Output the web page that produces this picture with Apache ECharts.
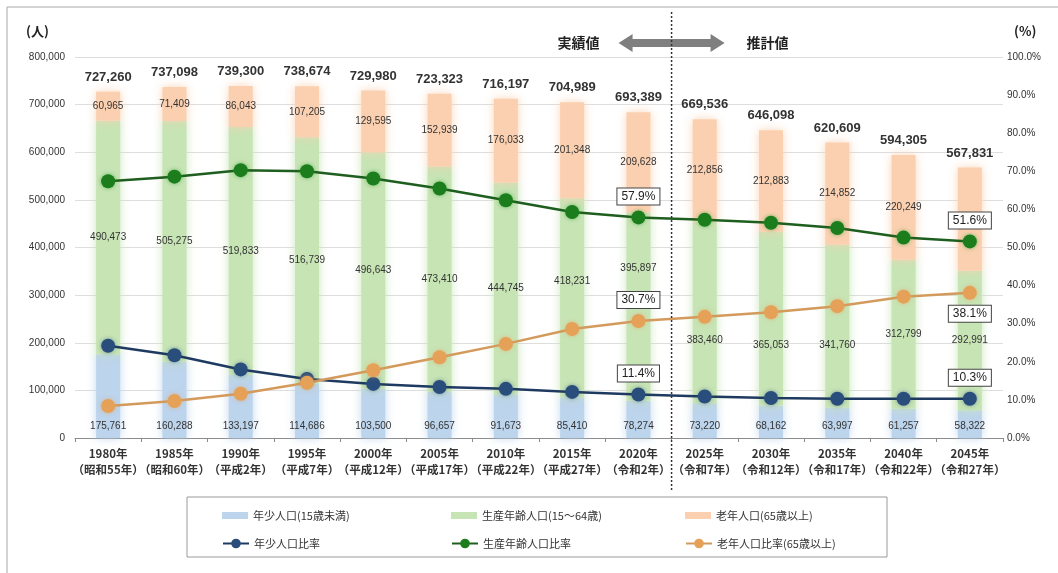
<!DOCTYPE html>
<html>
<head>
<meta charset="utf-8">
<script src="https://cdn.jsdelivr.net/npm/echarts@6/dist/echarts.min.js"></script>
<style>
html,body{margin:0;padding:0;background:#fff;}
#c{width:1058px;height:573px;}
</style>
</head>
<body>
<div id="c"></div>
<script>
const years = ['1980年','1985年','1990年','1995年','2000年','2005年','2010年','2015年','2020年','2025年','2030年','2035年','2040年','2045年'];
const eras = ['（昭和55年）','（昭和60年）','（平成2年）','（平成7年）','（平成12年）','（平成17年）','（平成22年）','（平成27年）','（令和2年）','（令和7年）','（令和12年）','（令和17年）','（令和22年）','（令和27年）'];

const young = [175761,160288,133197,114686,103500,96657,91673,85410,78274,73220,68162,63997,61257,58322];
const working = [490473,505275,519833,516739,496643,473410,444745,418231,395897,383460,365053,341760,312799,292991];
const elderly = [60965,71409,86043,107205,129595,152939,176033,201348,209628,212856,212883,214852,220249,216518];
const totals = [727260,737098,739300,738674,729980,723323,716197,704989,693389,669536,646098,620609,594305,567831];

const youngRate = [24.2,21.7,18.0,15.5,14.2,13.4,12.9,12.1,11.4,10.9,10.5,10.3,10.3,10.3];
const workingRate = [67.4,68.6,70.3,70.0,68.1,65.5,62.4,59.3,57.9,57.3,56.5,55.1,52.6,51.6];
const elderlyRate = [8.4,9.7,11.6,14.5,17.8,21.2,24.7,28.6,30.7,31.8,33.0,34.6,37.1,38.1];

const leftTicks = [0,100000,200000,300000,400000,500000,600000,700000,800000];
const rightTicks = [0,10,20,30,40,50,60,70,80,90,100];

const names = ['年少人口(15歳未満)','生産年齢人口(15～64歳)','老年人口(65歳以上)','年少人口比率','生産年齢人口比率','老年人口比率(65歳以上)'];
const labeledIdx = [8, 13];

// label vertical nudges (style only, px) for the working-age value labels
const workingLabelDy = [0,0,0,0,0,0,0,-16,-38,28,27,19,0,0];

const FONT = 'Arial, "Liberation Sans", "Noto Sans CJK JP", sans-serif';
const CJK = '"Noto Sans CJK JP", Arial, sans-serif';
const fmt = v => v.toLocaleString('en-US');

const categories = years.map((y,i) => y + '\n' + eras[i]);

function rateData(arr, pos) {
  return arr.map((v,i) => {
    const k = labeledIdx.indexOf(i);
    if (k < 0) return v;
    return {value: v, label: {show: true, position: pos[k]}};
  });
}
const boxLabel = {
  show: false, formatter: p => p.value.toFixed(1) + '%',
  backgroundColor: '#fff', borderColor: '#444', borderWidth: 1,
  padding: [2, 4], color: '#222', fontSize: 12, fontFamily: FONT, distance: 6
};
const segLabel = {fontSize: 10, color: '#333', fontFamily: FONT};

const barColors = ['#bcd4ec', '#c7e4b5', '#fbd0b0'];
const lineColors = ['#1f3a60', '#1e5e1e', '#d49a5c'];
const markColors = ['#2a4e7c', '#1c7d1c', '#e6a158'];

const legendPos = [[217,505],[446,505],[680,505],[217,533],[446,533],[680,533]];

const option = {
  animation: false,
  backgroundColor: '#fff',
  grid: {left: 75, right: 55, top: 57, bottom: 135},
  legend: names.map((n,i) => ({
    data: [n], left: legendPos[i][0], top: legendPos[i][1],
    itemWidth: 26, itemHeight: i < 3 ? 7 : 12, itemGap: 4,
    icon: i < 3 ? 'rect' : undefined,
    textStyle: {fontSize: 11, color: '#333', fontFamily: CJK},
    selectedMode: false
  })),
  xAxis: {
    type: 'category', data: categories, boundaryGap: true,
    axisLine: {lineStyle: {color: '#8c8c8c'}},
    axisTick: {show: true, length: 4, lineStyle: {color: '#8c8c8c'}},
    axisLabel: {interval: 0, fontSize: 11.5, fontWeight: 'bold', color: '#333', fontFamily: CJK, lineHeight: 16, margin: 8}
  },
  yAxis: [
    {type: 'value', min: 0, max: 800000, interval: 100000,
     axisLabel: {formatter: v => fmt(v), fontSize: 10, color: '#333', fontFamily: FONT, margin: 10},
     splitLine: {lineStyle: {color: '#dedede'}}, axisLine: {show: false}, axisTick: {show: false}},
    {type: 'value', min: 0, max: 100, interval: 10,
     axisLabel: {formatter: v => v.toFixed(1) + '%', fontSize: 10, color: '#333', fontFamily: FONT, margin: 4},
     splitLine: {show: false}, axisLine: {show: false}, axisTick: {show: false}}
  ],
  series: [
    {name: names[0], type: 'bar', stack: 'p', data: young, barWidth: 24,
     itemStyle: {color: barColors[0], shadowBlur: 10, shadowColor: 'rgba(188,212,236,0.9)'},
     label: Object.assign({show: true, position: 'insideBottom', distance: 7, formatter: p => fmt(p.value)}, segLabel)},
    {name: names[1], type: 'bar', stack: 'p', barWidth: 24,
     data: working.map((v,i) => workingLabelDy[i] ? {value: v, label: {offset: [0, workingLabelDy[i]]}} : v),
     itemStyle: {color: barColors[1], shadowBlur: 10, shadowColor: 'rgba(199,228,181,0.9)'},
     label: Object.assign({show: true, position: 'inside', formatter: p => fmt(p.value)}, segLabel)},
    {name: names[2], type: 'bar', stack: 'p', data: elderly, barWidth: 24,
     itemStyle: {color: barColors[2], shadowBlur: 10, shadowColor: 'rgba(251,208,176,0.9)'},
     label: Object.assign({show: true, position: 'inside', formatter: p => p.dataIndex === 13 ? '' : fmt(p.value)}, segLabel)},
    {name: 'total', type: 'bar', stack: 'p', data: totals.map(() => 0), barWidth: 24,
     itemStyle: {color: 'transparent'},
     label: {show: true, position: 'top', distance: 8, formatter: p => fmt(totals[p.dataIndex]),
             fontSize: 13, fontWeight: 'bold', color: '#333', fontFamily: FONT}},
    {name: names[3], type: 'line', yAxisIndex: 1, z: 5, data: rateData(youngRate, ['top','top']),
     symbol: 'circle', symbolSize: 14, lineStyle: {color: lineColors[0], width: 2.5},
     itemStyle: {color: markColors[0], shadowBlur: 4, shadowColor: 'rgba(42,78,124,0.5)'}, label: boxLabel},
    {name: names[4], type: 'line', yAxisIndex: 1, z: 5, data: rateData(workingRate, ['top','top']),
     symbol: 'circle', symbolSize: 14, lineStyle: {color: lineColors[1], width: 2.5},
     itemStyle: {color: markColors[1], shadowBlur: 4, shadowColor: 'rgba(40,160,40,0.6)'}, label: boxLabel},
    {name: names[5], type: 'line', yAxisIndex: 1, z: 5, data: rateData(elderlyRate, ['top','bottom']),
     symbol: 'circle', symbolSize: 14, lineStyle: {color: lineColors[2], width: 2.5},
     itemStyle: {color: markColors[2], shadowBlur: 4, shadowColor: 'rgba(230,161,88,0.6)'}, label: boxLabel}
  ]
};

const chart = echarts.init(document.getElementById('c'), null, {renderer: 'canvas'});
chart.setOption(option);

const x8 = chart.convertToPixel({xAxisIndex: 0}, 8);
const x9 = chart.convertToPixel({xAxisIndex: 0}, 9);
const mid = (x8 + x9) / 2;
const ay = 43;

chart.setOption({
  graphic: [
    {type: 'rect', shape: {x: 7, y: 7, width: 1070, height: 620}, style: {fill: 'none', stroke: '#a8a8a8', lineWidth: 1}, silent: true},
    {type: 'rect', shape: {x: 187, y: 497, width: 700, height: 60}, style: {fill: 'none', stroke: '#9a9a9a', lineWidth: 1}, silent: true, z: -1},
    {type: 'line', shape: {x1: mid, y1: 12, x2: mid, y2: 490}, style: {stroke: '#333', lineWidth: 1.5, lineDash: [2, 2]}, z: 10},
    {type: 'polygon', shape: {points: [
      [mid - 53, ay], [mid - 39, ay - 9], [mid - 39, ay - 4], [mid + 39, ay - 4], [mid + 39, ay - 9],
      [mid + 53, ay], [mid + 39, ay + 9], [mid + 39, ay + 4], [mid - 39, ay + 4], [mid - 39, ay + 9]
    ]}, style: {fill: '#7f7f7f'}, z: 9},
    {type: 'text', x: mid - 72, y: ay, style: {text: '実績値', font: 'bold 14px ' + CJK, fill: '#222', align: 'right', verticalAlign: 'middle'}},
    {type: 'text', x: mid + 75, y: ay, style: {text: '推計値', font: 'bold 14px ' + CJK, fill: '#222', align: 'left', verticalAlign: 'middle'}},
    {type: 'text', x: 26, y: 31, style: {text: '(人)', font: 'bold 13px ' + CJK, fill: '#222', align: 'left', verticalAlign: 'middle'}},
    {type: 'text', x: 1014, y: 31, style: {text: '(%)', font: 'bold 13px ' + CJK, fill: '#222', align: 'left', verticalAlign: 'middle'}}
  ]
});
</script>
</body>
</html>
